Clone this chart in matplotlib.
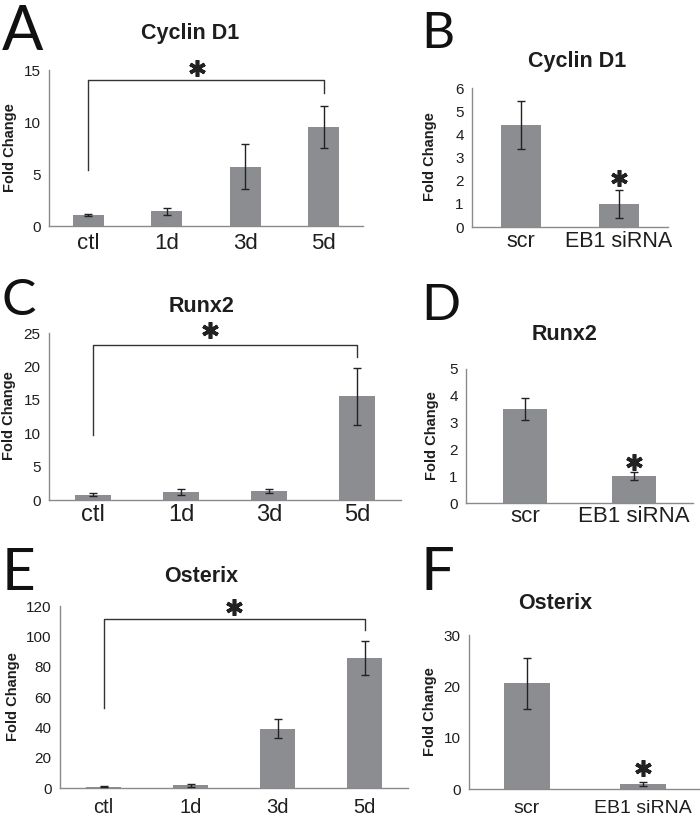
import matplotlib
matplotlib.use("Agg")
import matplotlib.pyplot as plt
from matplotlib import font_manager

W, H = 700, 822

time_labels = ["ctl", "1d", "3d", "5d"]
si_labels = ["scr", "EB1 siRNA"]

cyclin_time = [1.05, 1.4, 5.7, 9.5]
cyclin_time_err = [0.08, 0.3, 2.15, 2.0]
cyclin_si = [4.4, 1.0]
cyclin_si_err = [1.05, 0.6]

runx2_time = [0.8, 1.2, 1.35, 15.5]
runx2_time_err = [0.2, 0.4, 0.3, 4.3]
runx2_si = [3.5, 1.0]
runx2_si_err = [0.42, 0.15]

osx_time = [0.8, 1.8, 39.0, 85.7]
osx_time_err = [0.4, 1.0, 6.2, 11.0]
osx_si = [20.6, 1.0]
osx_si_err = [5.0, 0.4]

names = {f.name for f in font_manager.fontManager.ttflist}
LETTER_FONT = "Lato" if "Lato" in names else "Liberation Sans"
plt.rcParams["font.family"] = ["Liberation Sans", "DejaVu Sans"]

BAR = "#8c8d91"
SPINE = "#8a8a8a"
TXT = "#1e1e1e"

fig = plt.figure(figsize=(W / 100, H / 100), dpi=100)


def make_ax(left, right, top, bottom):
    return fig.add_axes([left / W, 1 - bottom / H, (right - left) / W, (bottom - top) / H])


def panel(box, labels, vals, errs, ymax, ystep, xlim, xfs, xpad, width=0.4):
    ax = make_ax(*box)
    x = range(len(vals))
    ax.bar(x, vals, width=width, color=BAR, zorder=2)
    ax.errorbar(x, vals, yerr=errs, fmt="none", ecolor="#222222", elinewidth=1,
                capsize=3, capthick=1, zorder=3)
    ax.set_xlim(*xlim)
    ax.set_ylim(0, ymax)
    ax.set_yticks(range(0, ymax + 1, ystep))
    ax.set_xticks(list(x))
    ax.set_xticklabels(labels, fontsize=xfs, color=TXT)
    for t in ax.get_yticklabels():
        t.set_fontsize(11)
        t.set_color(TXT)
    ax.tick_params(axis="both", length=0)
    ax.tick_params(axis="y", pad=6)
    ax.tick_params(axis="x", pad=xpad)
    for s in ["top", "right"]:
        ax.spines[s].set_visible(False)
    for s in ["left", "bottom"]:
        ax.spines[s].set_color(SPINE)
        ax.spines[s].set_linewidth(1)
    ax.patch.set_alpha(0)
    return ax


def bracket(ax, y, left_low, right_low, right_idx):
    ax.plot([0, 0, right_idx, right_idx], [left_low, y, y, right_low],
            color="#333333", lw=1, clip_on=False, zorder=4)


def star(ax, x, y):
    ax.plot([x], [y], marker=(6, 2, 0), ms=12, mew=2.6, color="#222222",
            clip_on=False, zorder=5)


def title(x, y, s):
    fig.text(x / W, 1 - y / H, s, ha="center", va="center", fontsize=15.5,
             fontweight="bold", color=TXT)


def letter(x, y, s, size):
    fig.text(x / W, 1 - y / H, s, ha="left", va="baseline", fontsize=size,
             family=LETTER_FONT, fontweight="normal", color="#111111")


def ylab(x, y):
    fig.text(x / W, 1 - y / H, "Fold Change", rotation=90, ha="center",
             va="center", fontsize=10.5, fontweight="bold", color=TXT)


# A
axA = panel((49, 363, 70, 226), time_labels, cyclin_time, cyclin_time_err, 15, 5,
            (-0.5, 3.5), 16, 5)
bracket(axA, 14.0, 5.4, 12.75, 3)
star(axA, 1.39, 15.2)
title(190, 34, "Cyclin D1")
letter(2, 50, "A", 44)
ylab(10, 148)

# B
axB = panel((472, 668, 88, 227), si_labels, cyclin_si, cyclin_si_err, 6, 1,
            (-0.5, 1.5), 15.5, 3)
star(axB, 1, 2.1)
title(577, 61, "Cyclin D1")
letter(421, 48, "B", 37)
ylab(430, 157)

# C
axC = panel((49, 401, 333, 500), time_labels, runx2_time, runx2_time_err, 25, 5,
            (-0.5, 3.5), 17, 3)
bracket(axC, 23.2, 9.7, 21.4, 3)
star(axC, 1.33, 25.4)
title(202, 306, "Runx2")
letter(2, 315, "C", 37)
ylab(9, 416)

# D
axD = panel((466, 693, 369, 503), si_labels, runx2_si, runx2_si_err, 5, 1,
            (-0.54, 1.54), 16, 2)
star(axD, 1, 1.53)
title(565, 334, "Runx2")
letter(421, 320, "D", 37)
ylab(432, 436)

# E
axE = panel((60, 408, 606, 788), time_labels, osx_time, osx_time_err, 120, 20,
            (-0.5, 3.5), 14.5, 7)
bracket(axE, 111.4, 52.6, 104, 3)
star(axE, 1.5, 119.3)
title(201, 576, "Osterix")
letter(2, 590, "E", 42)
ylab(13, 697)

# F
axF = panel((469, 701, 635, 789), si_labels, osx_si, osx_si_err, 30, 10,
            (-0.5, 1.5), 14, 8)
star(axF, 1, 4.1)
title(555, 603, "Osterix")
letter(421, 590, "F", 43)
ylab(430, 712)

fig.savefig("out.png", dpi=100)
